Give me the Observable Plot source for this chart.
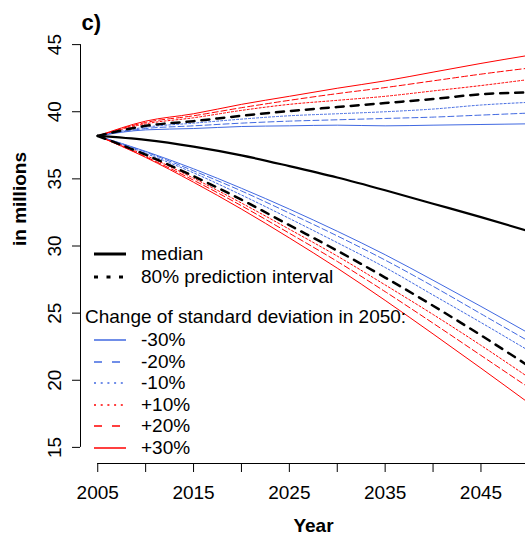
<!DOCTYPE html>
<html><head><meta charset="utf-8">
<script src="https://cdn.jsdelivr.net/npm/d3@7"></script>
<script src="https://cdn.jsdelivr.net/npm/@observablehq/plot@0.6"></script>
<style>
html,body{margin:0;padding:0;background:#fff;overflow:hidden}
#wrap{position:relative;width:525px;height:538px;overflow:hidden;font-family:"Liberation Sans",Arial,Helvetica,sans-serif;color:#000}
#wrap svg{overflow:hidden;display:block}
.lg{position:absolute;height:22px;line-height:22px;font-size:19px;white-space:nowrap;display:flex;align-items:center}
.lg svg{display:block}
</style></head><body><div id="wrap"></div>
<script>
// ---- data ----
const years    = [2005, 2010, 2015, 2020, 2025, 2030, 2035, 2040, 2045, 2050];
const median   = [38.2, 37.9, 37.4, 36.75, 35.95, 35.1, 34.15, 33.15, 32.15, 31.1];
const piUpper  = [38.2, 38.95, 39.3, 39.7, 40.05, 40.35, 40.65, 40.95, 41.3, 41.45];
const piLower  = [38.2, 36.8, 35.2, 33.45, 31.55, 29.65, 27.65, 25.55, 23.35, 21.05];
const upperM30 = [38.2, 38.65, 38.75, 38.9, 38.95, 39.0, 38.95, 39.0, 39.05, 39.1];
const upperM20 = [38.2, 38.75, 38.95, 39.15, 39.3, 39.4, 39.5, 39.6, 39.75, 39.9];
const upperM10 = [38.2, 38.85, 39.15, 39.45, 39.7, 39.85, 40.0, 40.2, 40.5, 40.7];
const upperP10 = [38.2, 39.1, 39.55, 40.1, 40.55, 40.85, 41.15, 41.55, 41.95, 42.4];
const upperP20 = [38.2, 39.2, 39.7, 40.3, 40.85, 41.35, 41.8, 42.3, 42.8, 43.25];
const upperP30 = [38.2, 39.3, 39.85, 40.55, 41.15, 41.75, 42.3, 42.95, 43.6, 44.2];
const lowerM30 = [38.2, 37.05, 35.75, 34.3, 32.75, 31.1, 29.35, 27.45, 25.5, 23.5];
const lowerM20 = [38.2, 37.0, 35.6, 34.1, 32.45, 30.75, 28.95, 27.0, 24.95, 22.9];
const lowerM10 = [38.2, 36.9, 35.45, 33.8, 32.05, 30.25, 28.4, 26.35, 24.3, 22.2];
const lowerP10 = [38.2, 36.75, 35.05, 33.2, 31.25, 29.25, 27.1, 24.9, 22.6, 20.2];
const lowerP20 = [38.2, 36.65, 34.9, 33.0, 30.95, 28.85, 26.6, 24.25, 21.85, 19.45];
const lowerP30 = [38.2, 36.6, 34.75, 32.75, 30.6, 28.35, 25.95, 23.45, 20.9, 18.3];
const variantLabels = ["-30%", "-20%", "-10%", "+10%", "+20%", "+30%"];
const xTicks   = [2005, 2010, 2015, 2020, 2025, 2030, 2035, 2040, 2045, 2050];
const xLabels  = [2005, 2015, 2025, 2035, 2045];
const yTicks   = [15, 20, 25, 30, 35, 40, 45];
const xRegion  = [2003.2, 2051.8];
const yRegion  = [13.8, 46.2];

// ---- styles ----
const BLUE = "#4169E1", RED = "#FF0000";
const variantStyle = [
  {color: BLUE, dash: null,  ldash: null},
  {color: BLUE, dash: "6,3", ldash: "8,10"},
  {color: BLUE, dash: "2,2", ldash: "2,4.7"},
  {color: RED,  dash: "2,2", ldash: "2,4.7"},
  {color: RED,  dash: "6,3", ldash: "8,10"},
  {color: RED,  dash: null,  ldash: null}
];
const variantUpper = [upperM30, upperM20, upperM10, upperP10, upperP20, upperP30];
const variantLower = [lowerM30, lowerM20, lowerM10, lowerP10, lowerP20, lowerP30];

const rows = arr => years.map((yr, i) => ({year: yr, value: arr[i]}));
const lineMark = (arr, o) => Plot.line(rows(arr), {x: "year", y: "value", curve: "monotone-x", stroke: o.color, strokeWidth: o.width, strokeDasharray: o.dash || undefined});

const lineMarks = [];
variantLabels.forEach((lab, k) => {
  const s = variantStyle[k];
  lineMarks.push(lineMark(variantUpper[k], {color: s.color, width: 1, dash: s.dash}));
  lineMarks.push(lineMark(variantLower[k], {color: s.color, width: 1, dash: s.dash}));
});
lineMarks.push(lineMark(median,  {color: "#000", width: 2.2}));
lineMarks.push(lineMark(piUpper, {color: "#000", width: 2.5, dash: "8,7"}));
lineMarks.push(lineMark(piLower, {color: "#000", width: 2.5, dash: "8,7"}));

const chart = Plot.plot({
  width: 525, height: 538,
  marginLeft: 80, marginRight: 0, marginTop: 28, marginBottom: 75,
  x: {domain: xRegion, range: [80, 545.6]},
  y: {domain: yRegion},
  style: {fontFamily: '"Liberation Sans", Arial, Helvetica, sans-serif', fontSize: "19px", background: "white", color: "black", overflow: "hidden"},
  marks: [
    Plot.axisX({ticks: xTicks, tickFormat: d => xLabels.includes(d) ? String(d) : "", tickSize: 9, tickPadding: 13, label: null}),
    Plot.axisY({ticks: yTicks, tickSize: 8, tickPadding: 12, tickRotate: -90, label: null}),
    Plot.ruleY([yRegion[0]], {x1: xTicks[0], x2: xTicks[xTicks.length - 1], stroke: "#000"}),
    Plot.ruleX([xRegion[0]], {y1: yTicks[0], y2: yTicks[yTicks.length - 1], stroke: "#000"}),
    ...lineMarks,
    Plot.text(["in millions"], {text: d => d, frameAnchor: "left", lineAnchor: "middle", rotate: -90, dx: -61, fontWeight: "bold"}),
    Plot.text(["Year"], {text: d => d, frameAnchor: "bottom", lineAnchor: "middle", dx: 10.5, dy: 62.5, fontWeight: "bold"}),
    Plot.text(["c)"], {text: d => d, frameAnchor: "top-left", lineAnchor: "middle", textAnchor: "start", dx: 1, dy: -6, fontWeight: "bold", fontSize: 22})
  ]
});
const wrap = document.getElementById("wrap");
wrap.appendChild(chart);

// ---- legend (HTML overlay) ----
function swatch(color, width, dash) {
  const ns = "http://www.w3.org/2000/svg";
  const s = document.createElementNS(ns, "svg");
  s.setAttribute("width", 34); s.setAttribute("height", 10);
  const l = document.createElementNS(ns, "line");
  l.setAttribute("x1", 1); l.setAttribute("x2", 33); l.setAttribute("y1", 5); l.setAttribute("y2", 5);
  l.setAttribute("stroke", color); l.setAttribute("stroke-width", width);
  if (dash) l.setAttribute("stroke-dasharray", dash);
  s.appendChild(l);
  return s;
}
function addRow(cy, sw, text) {
  const d = document.createElement("div");
  d.className = "lg";
  d.style.left = "93px"; d.style.top = (cy - 11) + "px";
  d.appendChild(sw);
  const t = document.createElement("span");
  t.textContent = text; t.style.marginLeft = "14px";
  d.appendChild(t);
  wrap.appendChild(d);
}
addRow(254, swatch("#000", 3, null), "median");
addRow(277, swatch("#000", 3, "4,8.5"), "80% prediction interval");
const hdr = document.createElement("div");
hdr.className = "lg"; hdr.style.left = "85px"; hdr.style.top = (317 - 11) + "px";
hdr.textContent = "Change of standard deviation in 2050:";
wrap.appendChild(hdr);
variantLabels.forEach((lab, k) => {
  const s = variantStyle[k];
  addRow(340 + k * 21.6, swatch(s.color, 1.5, s.ldash), lab);
});
</script></body></html>
